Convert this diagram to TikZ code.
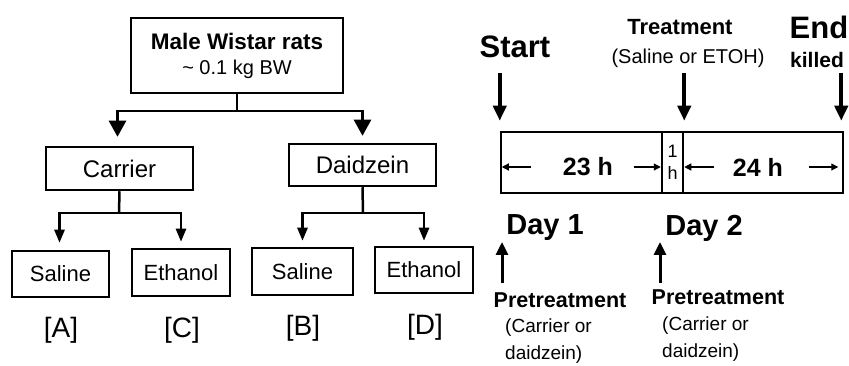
\documentclass[tikz,border=0pt]{standalone}
\usepackage{fontspec}
\setmainfont{Liberation Sans}
\usetikzlibrary{arrows.meta}
\newcommand\fsz[1]{\fontsize{#1}{#1}\selectfont}

\begin{document}
\begin{tikzpicture}[x=1pt,y=-1pt,
  box/.style={draw,line width=2.5pt,inner sep=0pt,align=center},
  tree/.style={line width=2.5pt},
  treearrow/.style={tree,-{Triangle[length=16pt,width=17pt]}},
  smallarrow/.style={tree,-{Triangle[length=13pt,width=10pt]}},
  timearrow/.style={line width=4pt,-{Triangle[length=15pt,width=13pt]}},
  uparrow/.style={line width=3pt,-{Triangle[length=13pt,width=12pt]}},
  inarrow/.style={line width=1.2pt,-{Triangle[length=7pt,width=7pt]}},
]
\useasboundingbox (0,0) rectangle (849,366);

% Groups: tree of boxes
\node[box,minimum width=212,minimum height=75,font=\fontsize{22.5}{25}\selectfont] (rats) at (237,55.5)
  {\textbf{Male Wistar rats}\\\fsz{20}\textasciitilde{} 0.1 kg BW};
\node[box,minimum width=147,minimum height=43] (carrier) at (119.5,168.5) {\fsz{24}Carrier};
\node[box,minimum width=147,minimum height=42] (daidzein) at (362.5,165) {\fsz{24}Daidzein};
\node[box,minimum width=97,minimum height=46] (salineA) at (60.5,274) {\fsz{22}Saline};
\node[box,minimum width=98,minimum height=47] (ethanolC) at (181,272.5) {\fsz{22}Ethanol};
\node[box,minimum width=101,minimum height=47] (salineB) at (302.5,271.5) {\fsz{22}Saline};
\node[box,minimum width=98,minimum height=46] (ethanolD) at (424,270) {\fsz{22}Ethanol};

\coordinate (split0) at (239,111);
\coordinate (split1) at (119,213);
\coordinate (split2) at (363,213);
\draw[tree] (rats.south) -- (rats.south |- split0);
\draw[treearrow] (rats.south |- split0) -| ([xshift=-2pt,yshift=9pt]carrier.north);
\draw[treearrow] (rats.south |- split0) -| ([yshift=7pt]daidzein.north);
\draw[tree] (carrier.south) -- (split1);
\draw[smallarrow] (split1) -| ([xshift=-1pt,yshift=7pt]salineA.north);
\draw[smallarrow] (split1) -| ([yshift=6pt]ethanolC.north);
\draw[tree] (daidzein.south) -- (split2);
\draw[smallarrow] (split2) -| ([yshift=6pt]salineB.north);
\draw[smallarrow] (split2) -| ([yshift=5pt]ethanolD.north);

\foreach \n/\x/\y/\t in {labA/61/330/A, labC/182/330/C, labB/303/328/B, labD/425/327/D}
  \node (\n) at (\x,\y) {\fsz{28}[\t]};

% Timeline
\node[box,minimum width=161,minimum height=61] (seg23) at (581.5,162.5) {};
\node[box,minimum width=21,minimum height=61,font=\fontsize{18}{22}\selectfont] (seg1) at (672.5,162.5)
  {1\\h};
\node[box,minimum width=160,minimum height=61] (seg24) at (763,162.5) {};
\node (t23) at (588,167) {\fsz{25}\textbf{23 h}};
\node (t24) at (758,167) {\fsz{25}\textbf{24 h}};
\draw[inarrow] ([xshift=-28pt]t23.west) -- ([xshift=2pt]seg23.west |- t23);
\draw[inarrow] ([xshift=17pt]t23.east) -- (seg1.west |- t23);
\draw[inarrow] ([xshift=-15pt]t24.west) -- (seg1.east |- t24);
\draw[inarrow] ([xshift=22pt]t24.east) -- ([xshift=-6pt]seg24.east |- t24);

% Top labels
\node (start) at (515,47) {\fsz{31}\textbf{Start}};
\node (treat) at (680,27) {\fsz{22}\textbf{Treatment}};
\node (treatsub) at (688,58) {\fsz{20}(Saline or ETOH)};
\node (end) at (819,27) {\fsz{31}\textbf{End}};
\node (killed) at (817,60) {\fsz{21}\textbf{killed}};
\draw[timearrow] ([yshift=58pt]seg23.north west) -- ([yshift=10pt]seg23.north west);
\draw[timearrow] ([yshift=58pt]seg1.north east) -- ([yshift=10pt]seg1.north east);
\draw[timearrow] ([xshift=-3pt,yshift=58pt]seg24.north east) -- ([xshift=-3pt,yshift=10pt]seg24.north east);

% Bottom labels
\node (day1) at (545,228) {\fsz{29}\textbf{Day 1}};
\node (day2) at (704,228) {\fsz{29}\textbf{Day 2}};
\node (pre1) at (560,300) {\fsz{21.5}\textbf{Pretreatment}};
\node (pre2) at (718,297) {\fsz{21.5}\textbf{Pretreatment}};
\node[anchor=west,align=left,inner sep=0pt,font=\fontsize{19}{27}\selectfont] (what1) at (505,341.5)
  {(Carrier or\\daidzein)};
\node[anchor=west,align=left,inner sep=0pt,font=\fontsize{19}{27}\selectfont] (what2) at (662,339.5)
  {(Carrier or\\daidzein)};
\coordinate (up1) at (502,283);
\coordinate (up2) at (660,283);
\draw[uparrow] (up1) -- ++(0,-41);
\draw[uparrow] (up2) -- ++(0,-41);
\end{tikzpicture}
\end{document}
